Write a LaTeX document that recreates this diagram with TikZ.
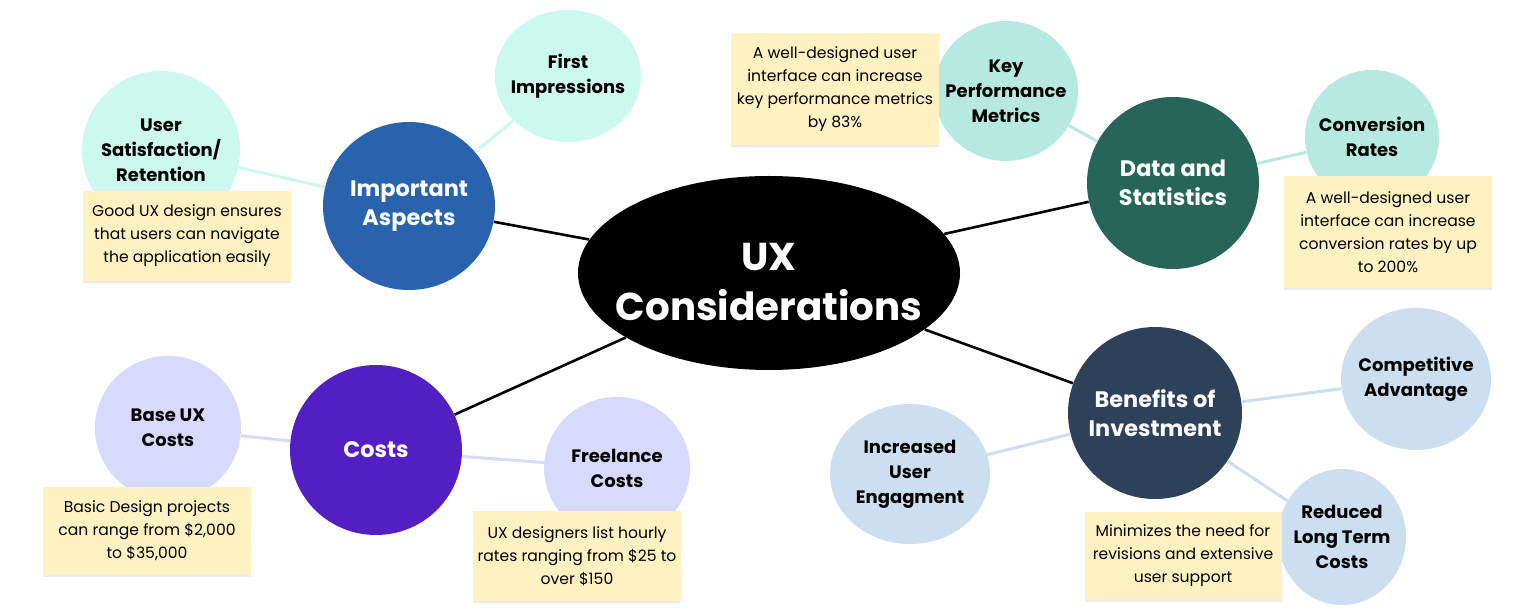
\documentclass[tikz,border=0pt]{standalone}
\usepackage{fontspec}
\setmainfont{Poppins}
\usetikzlibrary{shapes.geometric, shadows}
\definecolor{hubc}{HTML}{000000}
\definecolor{impc}{HTML}{2A63AD}
\definecolor{mintA}{HTML}{CCF8EE}
\definecolor{datac}{HTML}{276657}
\definecolor{mintB}{HTML}{B6EAE0}
\definecolor{costc}{HTML}{531FC3}
\definecolor{lavc}{HTML}{D8DAFD}
\definecolor{benc}{HTML}{2D4259}
\definecolor{paleb}{HTML}{CCDFF0}
\definecolor{notec}{HTML}{FFF2C2}

\begin{document}
\begin{tikzpicture}[x=0.5pt, y=-0.5pt,
    dims/.style 2 args={minimum width=#1pt, minimum height=#2pt},
    hub/.style={ellipse, fill=hubc, text=white, inner sep=-14pt, align=center,
        text height=48pt, font=\bfseries\fontsize{19.4}{25}\selectfont},
    topic/.style={ellipse, inner sep=-10pt, text=white, align=center,
        font=\bfseries\fontsize{11.2}{14.5}\selectfont},
    leaf/.style={ellipse, inner sep=-10pt, align=center,
        font=\bfseries\fontsize{9}{12.5}\selectfont},
    note/.style={rectangle, fill=notec, inner sep=0pt, align=center,
        font=\fontsize{7.8}{11.5}\selectfont,
        drop shadow={shadow xshift=0pt, shadow yshift=-1pt, opacity=.15}},
    trunk/.style={line width=1.3pt, black},
    twig/.style={line width=1.5pt}
    ]
    \fill[white] (0,0) rectangle (1536,614);
    \useasboundingbox (0,0) rectangle (1536,614);

    \node[hub, dims={191}{97}] (ux) at (769,273) {UX\\Considerations};

    \node[topic, fill=impc, dims={86}{84}] (imp) at (409,206) {Important\\Aspects};
    \node[leaf, fill=mintA, dims={73}{66}] (first) at (568,76) {First\\Impressions};
    \node[leaf, fill=mintA, dims={79}{79}] (usr) at (161,150) {User\\Satisfaction/\\Retention};

    \node[topic, fill=datac, dims={86}{86}] (data) at (1173,183) {Data and\\Statistics};
    \node[leaf, fill=mintB, dims={72}{70}] (kpm) at (1006,91) {Key\\Performance\\Metrics};
    \node[leaf, fill=mintB, dims={67}{67}] (conv) at (1372,137) {Conversion\\Rates};

    \node[topic, fill=benc, dims={87}{86}] (ben) at (1155,413) {Benefits of\\Investment};
    \node[leaf, fill=paleb, dims={75}{71}] (comp) at (1416,379) {Competitive\\Advantage};
    \node[leaf, fill=paleb, dims={80}{70}] (incr) at (910,474) {Increased\\User\\Engagment};
    \node[leaf, fill=paleb, dims={64}{68}] (red) at (1342,537) {Reduced\\Long Term\\Costs};

    \node[topic, fill=costc, dims={86}{85}] (costs) at (376,450) {Costs};
    \node[leaf, fill=lavc, dims={73}{72}] (base) at (168,428) {Base UX\\Costs};
    \node[leaf, fill=lavc, dims={73}{71}] (free) at (617,468) {Freelance\\Costs};

    \node[note, dims={104}{45}] (usrnote) at (187,236) {Good UX design ensures\\that users can navigate\\the application easily};
    \node[note, dims={104}{56}] (kpmnote) at (835,89) {A well-designed user\\interface can increase\\key performance metrics\\by 83\%};
    \node[note, dims={104}{56}] (convnote) at (1388,232) {A well-designed user\\interface can increase\\conversion rates by up\\to 200\%};
    \node[note, dims={104}{44}] (basenote) at (147,531) {Basic Design projects\\can range from \$2,000\\to \$35,000};
    \node[note, dims={104}{45}] (freenote) at (577,556) {UX designers list hourly\\rates ranging from \$25 to\\over \$150};
    \node[note, dims={98.5}{44}] (rednote) at (1183,556) {Minimizes the need for\\revisions and extensive\\user support};

    \draw[trunk] (ux) -- (imp);
    \draw[trunk] (ux) -- (data);
    \draw[trunk] (ux) -- (ben);
    \draw[trunk] (ux) -- (costs);

    \draw[twig, mintA] (imp) -- (first);
    \draw[twig, mintA] (imp) -- (usr);
    \draw[twig, mintB] (data) -- (kpm);
    \draw[twig, mintB] (data) -- (conv);
    \draw[twig, paleb] (ben) -- (comp);
    \draw[twig, paleb] (ben) -- (incr);
    \draw[twig, paleb] (ben) -- (red);
    \draw[twig, lavc] (costs) -- (base);
    \draw[twig, lavc] (costs) -- (free);
\end{tikzpicture}
\end{document}
